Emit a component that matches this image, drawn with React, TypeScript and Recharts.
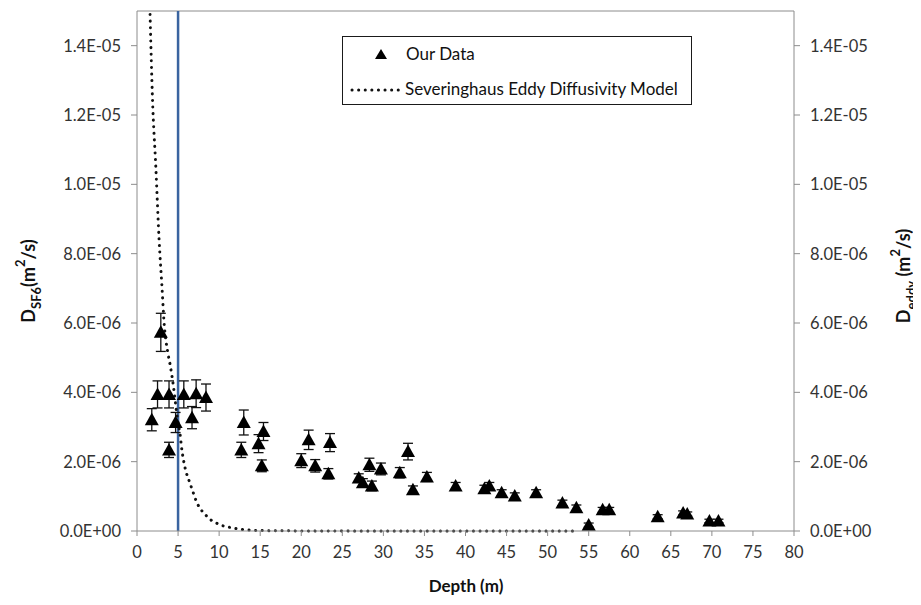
import React from "react";
import {
  ComposedChart,
  Scatter,
  Line,
  XAxis,
  YAxis,
  ErrorBar,
  ReferenceLine,
} from "recharts";

// measured SF6 diffusivity vs depth
const depths = [
  1.8, 2.5, 2.9, 3.9, 3.9, 4.7, 5.7, 6.7, 7.2, 8.4, 13.0, 12.7, 14.8, 15.4, 15.2,
  20.0, 20.9, 21.7, 23.5, 23.3, 27.0, 27.5, 28.3, 28.6, 29.7, 32.0, 33.0, 33.6,
  35.3, 38.8, 42.3, 42.9, 44.4, 46.0, 48.6, 51.8, 53.5, 55.0, 56.7, 57.5, 63.4,
  66.5, 67.0, 69.7, 70.8,
];
const dsf6 = [
  3.21e-6, 3.94e-6, 5.73e-6, 3.94e-6, 2.34e-6, 3.13e-6, 3.94e-6, 3.27e-6, 3.96e-6,
  3.85e-6, 3.13e-6, 2.34e-6, 2.52e-6, 2.87e-6, 1.88e-6, 2.03e-6, 2.63e-6, 1.88e-6,
  2.55e-6, 1.65e-6, 1.53e-6, 1.39e-6, 1.91e-6, 1.3e-6, 1.79e-6, 1.68e-6, 2.29e-6,
  1.19e-6, 1.56e-6, 1.3e-6, 1.22e-6, 1.3e-6, 1.1e-6, 1.01e-6, 1.1e-6, 0.81e-6,
  0.67e-6, 0.17e-6, 0.61e-6, 0.61e-6, 0.41e-6, 0.52e-6, 0.49e-6, 0.29e-6, 0.29e-6,
];
const dsf6Err = [
  3.2e-7, 3.9e-7, 5.5e-7, 3.9e-7, 2.2e-7, 2.9e-7, 3.9e-7, 3.2e-7, 4.0e-7, 3.9e-7,
  3.6e-7, 2.2e-7, 2.6e-7, 2.6e-7, 1.7e-7, 2.0e-7, 2.8e-7, 1.8e-7, 2.6e-7, 1.5e-7,
  1.2e-7, 1.2e-7, 1.9e-7, 1.4e-7, 1.7e-7, 1.5e-7, 2.4e-7, 1.1e-7, 1.3e-7, 1.0e-7,
  1.0e-7, 1.0e-7, 0.9e-7, 0.9e-7, 0.9e-7, 0.8e-7, 0.8e-7, 0.6e-7, 0.7e-7, 0.7e-7,
  0.6e-7, 0.6e-7, 0.6e-7, 0.5e-7, 0.5e-7,
];

// Severinghaus eddy diffusivity model
const modelDepths = [
  1.59, 1.88, 2.29, 2.69, 3.05, 3.3, 3.71, 4.03, 4.44, 4.81, 5.0, 5.25, 5.41, 5.73,
  6.02, 6.34, 6.87, 7.15, 7.55, 7.97, 8.49, 8.98, 9.59, 10.2, 11.0, 11.8, 12.6, 13.4,
  14.2, 16, 20, 30, 40, 53.5,
];
const modelValues = [
  1.49e-5, 1.25e-5, 1.05e-5, 8.4e-6, 7.0e-6, 6.0e-6, 5.2e-6, 4.8e-6, 4.17e-6,
  3.45e-6, 3.12e-6, 2.78e-6, 2.44e-6, 1.96e-6, 1.67e-6, 1.45e-6, 1.09e-6, 0.9e-6,
  0.7e-6, 0.56e-6, 0.43e-6, 0.32e-6, 0.24e-6, 0.17e-6, 0.12e-6, 0.08e-6, 0.05e-6,
  0.03e-6, 0.02e-6, 0.01e-6, 0.003e-6, 0, 0, 0,
];

const xTicks = [0, 5, 10, 15, 20, 25, 30, 35, 40, 45, 50, 55, 60, 65, 70, 75, 80];
const yTicks = [0, 2e-6, 4e-6, 6e-6, 8e-6, 1e-5, 1.2e-5, 1.4e-5];
const yMax = 1.5e-5;
const cutoffDepth = 5;

const ourData = depths.map((d, i) => ({ depth: d, v: dsf6[i], err: dsf6Err[i] }));
const modelData = modelDepths.map((d, i) => ({ depth: d, m: modelValues[i] }));

const FONT = "Lato, 'Open Sans', sans-serif";
const AXIS = "#8c8c8c";

function fmtExp(v: number) {
  const [m, e] = v.toExponential(1).split("e");
  const sign = e[0] === "-" ? "-" : "+";
  const n = e.replace(/[+-]/, "").padStart(2, "0");
  return `${m}E${sign}${n}`;
}

function Triangle(props: any) {
  const { cx, cy } = props;
  if (cx == null || cy == null) return null;
  return (
    <polygon
      points={`${cx},${cy - 7} ${cx + 7},${cy + 5.5} ${cx - 7},${cy + 5.5}`}
      fill="#000"
    />
  );
}

const LeftLabel = () => (
  <text
    x={20}
    y={273}
    transform="rotate(-90 20 273)"
    textAnchor="middle"
    dominantBaseline="central"
    fontFamily={FONT}
    fontWeight={700}
    fontSize={18}
    fill="#111"
  >
    D<tspan baselineShift="sub" fontSize={13}>SF6</tspan>
    <tspan>(m</tspan>
    <tspan baselineShift="super" fontSize={13}>2</tspan>
    <tspan>/s)</tspan>
  </text>
);

const RightLabel = () => (
  <text
    x={895}
    y={268}
    transform="rotate(-90 895 268)"
    textAnchor="middle"
    dominantBaseline="central"
    fontFamily={FONT}
    fontWeight={700}
    fontSize={18}
    fill="#111"
  >
    D<tspan baselineShift="sub" fontSize={13}>eddy</tspan>
    <tspan>{"  (m"}</tspan>
    <tspan baselineShift="super" fontSize={13}>2</tspan>
    <tspan>/s)</tspan>
  </text>
);

const BottomLabel = () => (
  <text
    x={458}
    y={577}
    textAnchor="middle"
    dominantBaseline="central"
    fontFamily={FONT}
    fontWeight={700}
    fontSize={17}
    fill="#111"
  >
    Depth (m)
  </text>
);

function LegendBox() {
  return (
    <div
      style={{
        position: "absolute",
        left: 334,
        top: 28,
        width: 348,
        height: 67,
        border: "1.5px solid #1a1a1a",
        background: "#fff",
        fontFamily: FONT,
        fontSize: 17,
        color: "#111",
      }}
    >
      <svg width={70} height={67} style={{ position: "absolute", left: 0, top: 0 }}>
        <polygon points="38,12 44,22 32,22" fill="#000" />
        <line
          x1={9}
          y1={53}
          x2={58}
          y2={53}
          stroke="#111"
          strokeWidth={3}
          strokeDasharray="0.1 6.5"
          strokeLinecap="round"
        />
      </svg>
      <div style={{ position: "absolute", left: 63, top: 6 }}>Our Data</div>
      <div style={{ position: "absolute", left: 62, top: 41 }}>
        Severinghaus Eddy Diffusivity Model
      </div>
    </div>
  );
}

export default function App() {
  const tick = { fill: "#333", fontSize: 16.5, fontFamily: FONT };
  return (
    <div style={{ position: "relative", width: 913, height: 589 }}>
      <ComposedChart
        width={913}
        height={589}
        margin={{ top: 3, right: 39, left: 41, bottom: 30 }}
      >
        <XAxis
          dataKey="depth"
          type="number"
          domain={[0, 80]}
          ticks={xTicks}
          interval={0}
          tick={{ ...tick, dy: 8 }}
          tickLine={{ stroke: AXIS }}
          tickSize={5}
          axisLine={{ stroke: AXIS }}
          height={36}
          label={<BottomLabel />}
        />
        <YAxis
          yAxisId="left"
          type="number"
          domain={[0, yMax]}
          ticks={yTicks}
          interval={0}
          tickFormatter={fmtExp}
          tick={{ ...tick, dx: -8 }}
          tickLine={{ stroke: AXIS }}
          tickSize={6}
          axisLine={{ stroke: AXIS }}
          width={88}
          label={<LeftLabel />}
        />
        <YAxis
          yAxisId="right"
          orientation="right"
          type="number"
          domain={[0, yMax]}
          ticks={yTicks}
          interval={0}
          tickFormatter={fmtExp}
          tick={{ ...tick, dx: 8 }}
          tickLine={{ stroke: AXIS }}
          tickSize={6}
          axisLine={{ stroke: AXIS }}
          width={88}
          label={<RightLabel />}
        />
        <ReferenceLine yAxisId="left" y={yMax} stroke={AXIS} strokeWidth={1} />
        <ReferenceLine
          yAxisId="left"
          x={cutoffDepth}
          stroke="#3a64a0"
          strokeWidth={2.5}
        />
        <Line
          yAxisId="right"
          data={modelData}
          dataKey="m"
          type="monotone"
          stroke="#111"
          strokeWidth={3}
          strokeDasharray="0.1 6.5"
          strokeLinecap="round"
          dot={false}
          activeDot={false}
          isAnimationActive={false}
        />
        <Scatter
          yAxisId="left"
          data={ourData}
          dataKey="v"
          shape={<Triangle />}
          isAnimationActive={false}
        >
          <ErrorBar
            dataKey="err"
            direction="y"
            width={5}
            stroke="#111"
            strokeWidth={1.3}
            isAnimationActive={false}
          />
        </Scatter>
      </ComposedChart>
      <LegendBox />
    </div>
  );
}
